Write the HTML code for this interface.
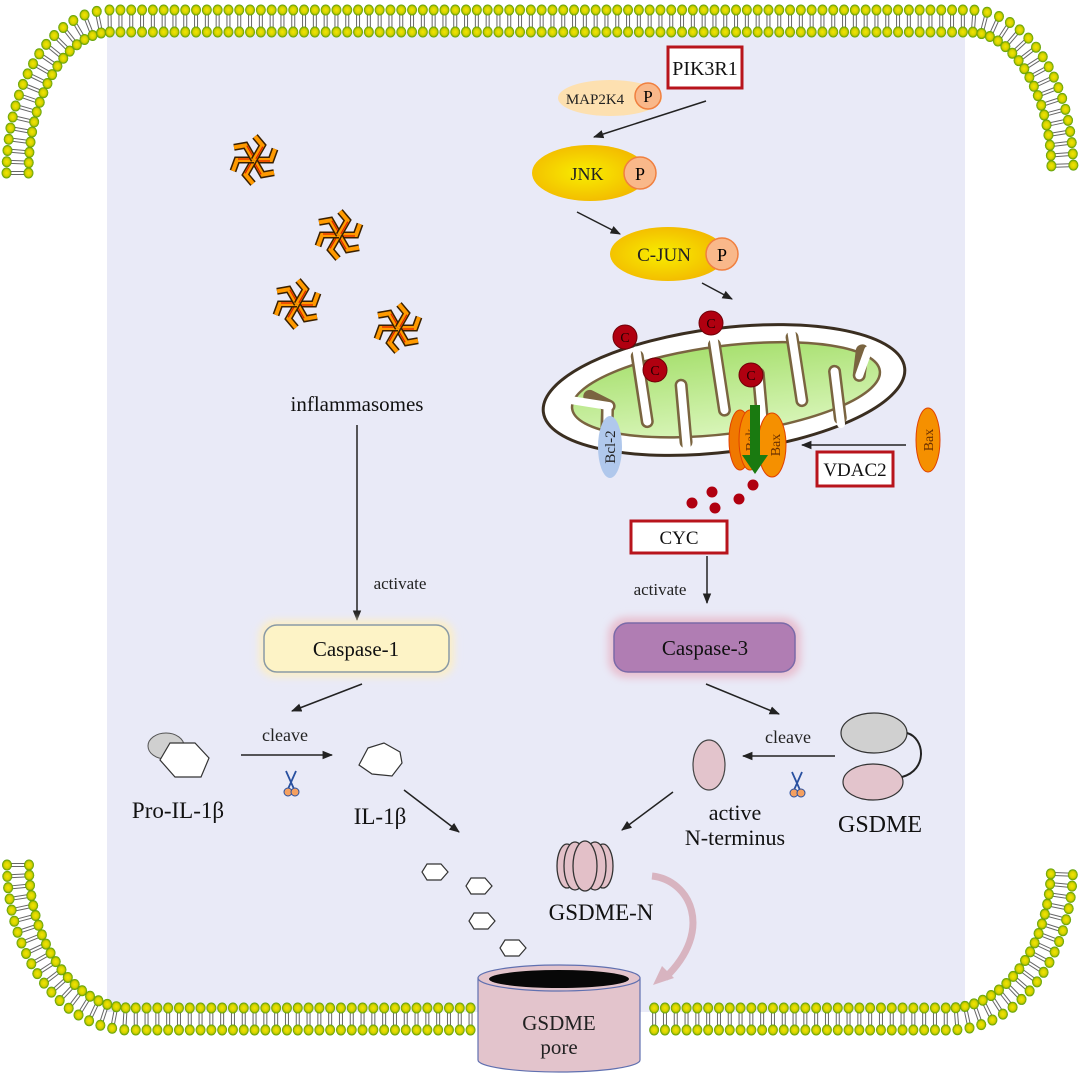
<!DOCTYPE html>
<html><head><meta charset="utf-8">
<style>
html,body{margin:0;padding:0;background:#fff;}
svg{display:block;font-family:"Liberation Serif",serif;}
</style></head>
<body>
<svg id="s" width="1080" height="1074" viewBox="0 0 1080 1074" xmlns="http://www.w3.org/2000/svg">
<defs>
<radialGradient id="yel" cx="0.45" cy="0.5" r="0.6"><stop offset="0" stop-color="#f8ee00"/><stop offset="1" stop-color="#f2b400"/></radialGradient>
<radialGradient id="head" cx="0.5" cy="0.5" r="0.5"><stop offset="0" stop-color="#f0e800"/><stop offset="0.6" stop-color="#d8d000"/><stop offset="1" stop-color="#4e9a06"/></radialGradient>
<linearGradient id="grn" x1="0" y1="0" x2="0" y2="1"><stop offset="0" stop-color="#a8e070"/><stop offset="1" stop-color="#d8f5b8"/></linearGradient>
<filter id="glow" x="-20%" y="-40%" width="140%" height="180%"><feGaussianBlur stdDeviation="4"/></filter>
<marker id="ar" viewBox="0 0 10 10" refX="9" refY="5" markerWidth="7" markerHeight="7" orient="auto"><path d="M0,1 L10,5 L0,9 z" fill="#222"/></marker>
<g id="pin">
 <g id="arm"><path d="M0,0 L17,0 L21,-11" fill="none" stroke="#3a2000" stroke-width="7"/><path d="M0,0 L17,0 L21,-11" fill="none" stroke="#ff9a00" stroke-width="4"/><path d="M2,1 L16,1" stroke="#e02000" stroke-width="1.2"/></g>
 <use href="#arm" transform="rotate(60)"/><use href="#arm" transform="rotate(120)"/><use href="#arm" transform="rotate(180)"/><use href="#arm" transform="rotate(240)"/><use href="#arm" transform="rotate(300)"/>
</g>
<g id="hex"><polygon points="-10,-8 4,-8 11,0 4,8 -10,8 -15,0" fill="#fff" stroke="#333" stroke-width="1.2"/></g>
<g id="sci"><path d="M-5,-14 L3,4 M5,-14 L-3,4" stroke="#2850a0" stroke-width="1.8"/><circle cx="-3" cy="7" r="4" fill="#f5a060" stroke="#2850a0" stroke-width="1"/><circle cx="4" cy="7" r="4" fill="#f5a060" stroke="#2850a0" stroke-width="1"/></g>
</defs>
<rect x="107" y="32" width="858" height="980" fill="#e9eaf7"/>
<g id="mem"></g>
<path id="p1" d="M17.5,173 A93,152 0 0 1 110,21 L970,21 A93,152 0 0 1 1062.5,173" fill="none" stroke="none"/>
<path id="p2" d="M18,865 A112,154 0 0 0 130,1019 L950,1019 A112,154 0 0 0 1062,865" fill="none" stroke="none"/>

<!-- inflammasomes -->
<use href="#pin" x="254" y="160"/><use href="#pin" x="339" y="235"/><use href="#pin" x="297" y="304"/><use href="#pin" x="398" y="328"/>
<text x="357" y="411" font-size="21" text-anchor="middle" fill="#111">inflammasomes</text>
<line x1="357" y1="425" x2="357" y2="620" stroke="#222" stroke-width="1.5" marker-end="url(#ar)"/>
<text x="400" y="589" font-size="17" text-anchor="middle" fill="#222">activate</text>
<rect x="259" y="620" width="195" height="57" rx="16" fill="#fbeec8" filter="url(#glow)"/>
<rect x="264" y="625" width="185" height="47" rx="13" fill="#fdf3c6" stroke="#8a9aa5" stroke-width="1.5"/>
<text x="356" y="656" font-size="21" text-anchor="middle" fill="#111">Caspase-1</text>
<line x1="362" y1="684" x2="292" y2="711" stroke="#222" stroke-width="1.5" marker-end="url(#ar)"/>
<ellipse cx="166" cy="746" rx="18" ry="13" fill="#d0d0d0" stroke="#555"/>
<polygon points="170,743 195,743 209,758 201,777 175,777 160,760" fill="#fff" stroke="#333" stroke-width="1.2"/>
<text x="178" y="818" font-size="23" text-anchor="middle" fill="#111">Pro-IL-1β</text>
<text x="285" y="741" font-size="18" text-anchor="middle" fill="#222">cleave</text>
<line x1="241" y1="755" x2="332" y2="755" stroke="#222" stroke-width="1.5" marker-end="url(#ar)"/>
<use href="#sci" x="291" y="785"/>
<polygon points="368,748 384,743 400,752 402,763 392,776 372,774 359,765" fill="#fff" stroke="#333" stroke-width="1.2"/>
<text x="380" y="824" font-size="23" text-anchor="middle" fill="#111">IL-1β</text>
<line x1="404" y1="790" x2="459" y2="832" stroke="#222" stroke-width="1.5" marker-end="url(#ar)"/>
<use href="#hex" x="437" y="872"/><use href="#hex" x="481" y="886"/><use href="#hex" x="484" y="921"/><use href="#hex" x="515" y="948"/>

<!-- right pathway -->
<rect x="668" y="47" width="74" height="41" fill="#fff" stroke="#b8141c" stroke-width="3"/>
<text x="705" y="75" font-size="20" text-anchor="middle" fill="#111">PIK3R1</text>
<ellipse cx="610" cy="98" rx="52" ry="18" fill="#fde0b0"/>
<text x="595" y="104" font-size="15" text-anchor="middle" fill="#222">MAP2K4</text>
<circle cx="648" cy="96" r="13" fill="#f9b88a" stroke="#f08040" stroke-width="1.5"/><text x="648" y="102" font-size="17" text-anchor="middle">P</text>
<line x1="706" y1="101" x2="594" y2="137" stroke="#222" stroke-width="1.5" marker-end="url(#ar)"/>
<ellipse cx="590" cy="173" rx="58" ry="28" fill="url(#yel)"/>
<text x="587" y="180" font-size="18" text-anchor="middle" fill="#222">JNK</text>
<circle cx="640" cy="173" r="16" fill="#f9b88a" stroke="#f08040" stroke-width="1.5"/><text x="640" y="180" font-size="18" text-anchor="middle">P</text>
<line x1="577" y1="212" x2="620" y2="234" stroke="#222" stroke-width="1.5" marker-end="url(#ar)"/>
<ellipse cx="668" cy="254" rx="58" ry="27" fill="url(#yel)"/>
<text x="664" y="261" font-size="19" text-anchor="middle" fill="#222">C-JUN</text>
<circle cx="722" cy="254" r="16" fill="#f9b88a" stroke="#f08040" stroke-width="1.5"/><text x="722" y="261" font-size="18" text-anchor="middle">P</text>
<line x1="702" y1="283" x2="732" y2="299" stroke="#222" stroke-width="1.5" marker-end="url(#ar)"/>

<!-- mitochondrion -->
<g transform="rotate(-7 724 390)">
<ellipse cx="724" cy="390" rx="182" ry="62" fill="#fff" stroke="#3a2e20" stroke-width="3"/>
<ellipse cx="726" cy="390" rx="155" ry="44" fill="url(#grn)" stroke="#7a6440" stroke-width="2.5"/>
<g stroke-linecap="round" fill="none">
 <g stroke="#7a6440" stroke-width="13">
  <path d="M600,434 L606,395"/><path d="M642,346 L644,412"/><path d="M680,437 L682,380"/><path d="M720,344 L722,410"/><path d="M758,437 L760,378"/><path d="M798,346 L800,410"/><path d="M836,432 L836,385"/><path d="M866,368 L860,392"/><path d="M590,380 L608,392"/>
 </g>
 <g stroke="#ffffff" stroke-width="8">
  <path d="M600,440 L606,395"/><path d="M642,340 L644,412"/><path d="M680,442 L682,380"/><path d="M720,338 L722,410"/><path d="M758,442 L760,378"/><path d="M798,340 L800,410"/><path d="M836,438 L836,385"/><path d="M872,368 L860,392"/><path d="M566,380 L608,392"/>
 </g>
</g>
</g>
<g fill="#b00010" stroke="#700008"><circle cx="625" cy="337" r="12"/><circle cx="711" cy="323" r="12"/><circle cx="655" cy="370" r="12"/><circle cx="751" cy="375" r="12"/></g>
<g font-size="14" text-anchor="middle" fill="#200"><text x="625" y="342">C</text><text x="711" y="328">C</text><text x="655" y="375">C</text><text x="751" y="380">C</text></g>
<ellipse cx="740" cy="440" rx="11" ry="30" fill="#f07800" stroke="#e04000"/>
<ellipse cx="750" cy="440" rx="11" ry="30" fill="#f58a00" stroke="#e04000"/>
<ellipse cx="772" cy="445" rx="14" ry="32" fill="#f59000" stroke="#e04000"/>
<text transform="translate(755,440) rotate(-90)" font-size="14" text-anchor="middle" fill="#6a3000">Bak</text>
<text transform="translate(780,445) rotate(-90)" font-size="14" text-anchor="middle" fill="#6a3000">Bax</text>
<path d="M750,405 L760,405 L760,455 L768,455 L755,474 L742,455 L750,455 Z" fill="#1a7a10"/>
<ellipse cx="610" cy="447" rx="12" ry="31" fill="#b0c8ec"/>
<text transform="translate(615,447) rotate(-90)" font-size="15" text-anchor="middle" fill="#222">Bcl-2</text>
<ellipse cx="928" cy="440" rx="12" ry="32" fill="#f59000" stroke="#e04000"/>
<text transform="translate(933,440) rotate(-90)" font-size="14" text-anchor="middle" fill="#6a3000">Bax</text>
<line x1="906" y1="445" x2="802" y2="445" stroke="#222" stroke-width="1.5" marker-end="url(#ar)"/>
<rect x="817" y="452" width="76" height="34" fill="#fff" stroke="#b8141c" stroke-width="3"/>
<text x="855" y="476" font-size="19" text-anchor="middle" fill="#111">VDAC2</text>
<g fill="#b00010"><circle cx="753" cy="485" r="5.5"/><circle cx="712" cy="492" r="5.5"/><circle cx="739" cy="499" r="5.5"/><circle cx="692" cy="503" r="5.5"/><circle cx="715" cy="508" r="5.5"/></g>
<rect x="631" y="521" width="96" height="32" fill="#fff" stroke="#b8141c" stroke-width="3"/>
<text x="679" y="544" font-size="19" text-anchor="middle" fill="#111">CYC</text>
<line x1="707" y1="556" x2="707" y2="603" stroke="#222" stroke-width="1.5" marker-end="url(#ar)"/>
<text x="660" y="595" font-size="17" text-anchor="middle" fill="#222">activate</text>
<rect x="608" y="617" width="193" height="61" rx="18" fill="#e8c0d0" filter="url(#glow)"/>
<rect x="614" y="623" width="181" height="49" rx="14" fill="#b07db3" stroke="#7a6aa8" stroke-width="1.5"/>
<text x="705" y="655" font-size="21" text-anchor="middle" fill="#111">Caspase-3</text>
<line x1="706" y1="684" x2="779" y2="714" stroke="#222" stroke-width="1.5" marker-end="url(#ar)"/>
<text x="788" y="743" font-size="18" text-anchor="middle" fill="#222">cleave</text>
<line x1="835" y1="756" x2="743" y2="756" stroke="#222" stroke-width="1.5" marker-end="url(#ar)"/>
<use href="#sci" x="797" y="786"/>
<ellipse cx="709" cy="765" rx="16" ry="25" fill="#e3c4cc" stroke="#444" stroke-width="1.2"/>
<ellipse cx="874" cy="733" rx="33" ry="20" fill="#d0d0d0" stroke="#333" stroke-width="1.2"/>
<ellipse cx="873" cy="782" rx="30" ry="18" fill="#e3c4cc" stroke="#333" stroke-width="1.2"/>
<path d="M907,733 C925,738 928,770 902,777" fill="none" stroke="#222" stroke-width="2"/>
<text x="735" y="820" font-size="22" text-anchor="middle" fill="#111">active</text>
<text x="735" y="845" font-size="22" text-anchor="middle" fill="#111">N-terminus</text>
<text x="880" y="832" font-size="24" text-anchor="middle" fill="#111">GSDME</text>
<line x1="673" y1="792" x2="622" y2="830" stroke="#222" stroke-width="1.5" marker-end="url(#ar)"/>
<!-- GSDME-N -->
<g fill="#e3c0c8" stroke="#333" stroke-width="1.3">
<ellipse cx="567" cy="866" rx="10" ry="22"/><ellipse cx="603" cy="866" rx="10" ry="22"/>
<ellipse cx="575" cy="866" rx="11" ry="24"/><ellipse cx="595" cy="866" rx="11" ry="24"/>
<ellipse cx="585" cy="866" rx="12" ry="25"/>
</g>
<text x="601" y="920" font-size="23" text-anchor="middle" fill="#111">GSDME-N</text>
<path d="M652,876 C690,880 715,930 665,978" fill="none" stroke="#d8b4c0" stroke-width="7"/>
<path d="M653,985 L662,966 L674,978 Z" fill="#d8b4c0"/>
<!-- pore -->
<path d="M478,978 L478,1060 A81,12 0 0 0 640,1060 L640,978 Z" fill="#e3c4cc" stroke="#6070b0" stroke-width="1.2"/>
<ellipse cx="559" cy="978" rx="81" ry="13" fill="#e3c4cc" stroke="#6070b0" stroke-width="1.2"/>
<ellipse cx="559" cy="979" rx="70" ry="9" fill="#080808"/>
<text x="559" y="1030" font-size="21" text-anchor="middle" fill="#222">GSDME</text>
<text x="559" y="1054" font-size="21" text-anchor="middle" fill="#222">pore</text>
</svg>
<script>
(function(){
var mem=document.getElementById('mem');
function lay(id,skip){
 var p=document.getElementById(id),L=p.getTotalLength(),step=10.8,h="";
 for(var s=0;s<=L;s+=step){
  var a=p.getPointAtLength(s),b=p.getPointAtLength(Math.min(L,s+0.5)),c=p.getPointAtLength(Math.max(0,s-0.5));
  var dx=b.x-c.x,dy=b.y-c.y,n=Math.hypot(dx,dy)||1;var nx=-dy/n,ny=dx/n;
  if(skip&&a.x>474&&a.x<644)continue;
  var x1=a.x+nx*11,y1=a.y+ny*11,x2=a.x-nx*11,y2=a.y-ny*11;
  h+='<line x1="'+(x1-dx/n*1.5)+'" y1="'+(y1-dy/n*1.5)+'" x2="'+(x2-dx/n*1.5)+'" y2="'+(y2-dy/n*1.5)+'" stroke="#666" stroke-width="1"/>';
  h+='<line x1="'+(x1+dx/n*1.5)+'" y1="'+(y1+dy/n*1.5)+'" x2="'+(x2+dx/n*1.5)+'" y2="'+(y2+dy/n*1.5)+'" stroke="#666" stroke-width="1"/>';
  h+='<ellipse cx="'+x1+'" cy="'+y1+'" rx="5" ry="5.5" fill="url(#head)"/><ellipse cx="'+x2+'" cy="'+y2+'" rx="5" ry="5.5" fill="url(#head)"/>';
 }
 mem.innerHTML+=h;
}
lay('p1',false);lay('p2',true);
})();
</script>
</body></html>
